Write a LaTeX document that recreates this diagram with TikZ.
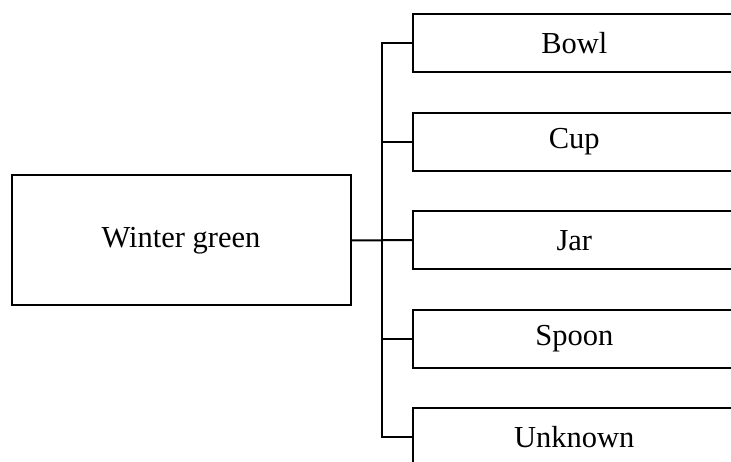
\documentclass[tikz,border=0pt]{standalone}
\usepackage{fontspec}
\setmainfont{Liberation Serif}
\begin{document}
\begin{tikzpicture}[x=1pt,y=-1pt,
  box/.style={draw=black,line width=2pt,fill=white,inner sep=0pt,font=\fontsize{30.5}{36}\selectfont},
  rootbox/.style={box,minimum width=339pt,minimum height=130pt},
  leafbox/.style={box,minimum width=322pt,minimum height=58pt},
  conn/.style={draw=black,line width=2pt}]
\path[use as bounding box,clip] (0,0) rectangle (731,462);
\node[rootbox] (root) at (181,240.3) {Winter green};
\node[leafbox] (b1) at (574.3,43) {Bowl};
\node[leafbox] (b2) at (574.3,141.6) {Cup};
\node[leafbox] (b3) at (574.3,240.2) {Jar};
\node[leafbox] (b4) at (574.3,338.8) {Spoon};
\node[leafbox] (b5) at (574.3,437.4) {Unknown};
\coordinate (jt) at (381.7,43);
\coordinate (jb) at (381.7,437.4);
\draw[conn,line join=miter] (b1.west) -- (jt) -- (jb) -- (b5.west);
\draw[conn] (b2.west) -- (jt |- b2.west);
\draw[conn] (b4.west) -- (jt |- b4.west);
\draw[conn] (root.east) -- (b3.west);
\end{tikzpicture}
\end{document}
